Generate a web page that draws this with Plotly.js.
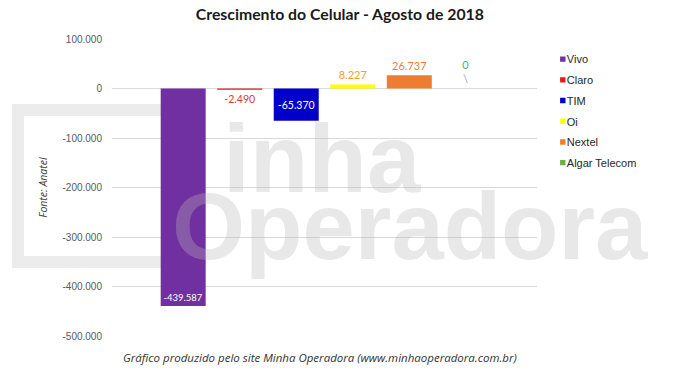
<!DOCTYPE html>
<html>
<head>
<meta charset="utf-8">
<script src="https://cdn.plot.ly/plotly-3.0.1.min.js"></script>
<style>
html,body{margin:0;padding:0;background:#fff;}
#chart{width:673px;height:377px;}
</style>
</head>
<body>
<div id="chart"></div>
<script>
// ---- data ----
const category = "Agosto de 2018";
const operators = ["Vivo", "Claro", "TIM", "Oi", "Nextel", "Algar Telecom"];
const values = [-439587, -2490, -65370, 8227, 26737, 0];
const valueLabels = ["-439.587", "-2.490", "-65.370", "8.227", "26.737", "0<br><span style='color:#a0a0a0'>\\</span>"];
const barColors = ["#7030A0", "#E31A1C", "#0000C8", "#FFFF00", "#ED7D31", "#70AD47"];
const labelColors = ["#FFFFFF", "#D13B3B", "#FFFFFF", "#F0A030", "#ED7D31", "#3DB57A"];
const labelSizes = [9.5, 10.5, 10.5, 11, 11, 11];
const labelPositions = ["inside", "outside", "inside", "outside", "outside", "outside"];
const insideAnchors = ["end", "middle", "middle", "middle", "middle", "middle"];
const yTickVals = [100000, 0, -100000, -200000, -300000, -400000, -500000];
const yTickText = ["100.000", "0", "-100.000", "-200.000", "-300.000", "-400.000", "-500.000"];

const traces = operators.map((name, i) => ({
  type: "bar",
  name: name,
  x: [category],
  y: [values[i]],
  marker: { color: barColors[i] },
  text: [valueLabels[i]],
  textposition: labelPositions[i],
  insidetextanchor: insideAnchors[i],
  textangle: 0,
  textfont: { family: "Lato, sans-serif", size: labelSizes[i], color: labelColors[i] },
  constraintext: "none",
  cliponaxis: false,
  hoverinfo: "skip",
  legendgroup: "g" + i
}));

const wmColor = "rgba(185,185,185,0.32)";
const layout = {
  width: 673, height: 377,
  margin: { l: 112, r: 136, t: 39, b: 41 },
  paper_bgcolor: "#ffffff",
  plot_bgcolor: "rgba(0,0,0,0)",
  barmode: "group",
  bargap: 0.202,
  bargroupgap: 0.204,
  showlegend: true,
  title: {
    text: "Crescimento do Celular - Agosto de 2018",
    font: { family: "Lato, sans-serif", size: 15.8, color: "#1a1a1a", weight: "bold" },
    x: 0.505, xref: "container", xanchor: "center",
    y: 0.962, yref: "container", yanchor: "middle"
  },
  xaxis: { showticklabels: false, showgrid: false, zeroline: false, showline: false, ticks: "", fixedrange: true },
  yaxis: {
    range: [-500000, 100000],
    tickvals: yTickVals, ticktext: yTickText,
    tickfont: { family: "Liberation Sans, Arial, sans-serif", size: 10, color: "#595959" },
    showgrid: true, gridcolor: "#d9d9d9", gridwidth: 1,
    zeroline: true, zerolinecolor: "#d9d9d9", zerolinewidth: 1,
    showline: false, ticks: "", ticklabelstandoff: 9,
    title: { text: "Fonte: Anatel", standoff: 12,
      font: { family: "Open Sans, sans-serif", size: 10.5, color: "#404040", style: "italic" } }
  },
  legend: {
    x: 0.976, xanchor: "left", y: 0.981, yanchor: "top",
    font: { family: "Liberation Sans, Arial, sans-serif", size: 11, color: "#262626" },
    traceorder: "grouped", tracegroupgap: 1.7, itemwidth: 30, bgcolor: "rgba(0,0,0,0)"
  },
  shapes: [
    { type: "rect", layer: "below", xref: "paper", yref: "paper",
      x0: (18 - 112) / 425, x1: (176 - 112) / 425, y0: (336 - 262) / 297, y1: (336 - 110) / 297,
      line: { color: "#ececec", width: 12 }, fillcolor: "rgba(0,0,0,0)" }
  ],
  annotations: [
    { text: "inha", xref: "paper", yref: "paper", x: (221 - 112) / 425, xanchor: "left",
      y: (336 - 158) / 297, yanchor: "middle", showarrow: false,
      font: { family: "Liberation Sans, Arial, sans-serif", size: 96, color: wmColor, weight: "bold" } },
    { text: "Operadora", xref: "paper", yref: "paper", x: (170 - 112) / 425, xanchor: "left",
      y: (336 - 226) / 297, yanchor: "middle", showarrow: false,
      font: { family: "Liberation Sans, Arial, sans-serif", size: 94, color: wmColor, weight: "bold" } },
    { text: "Gráfico produzido pelo site Minha Operadora (www.minhaoperadora.com.br)",
      xref: "paper", yref: "paper", x: 0.49, xanchor: "center", y: (336 - 358) / 297, yanchor: "middle",
      showarrow: false,
      font: { family: "Open Sans, sans-serif", size: 11.5, color: "#333333", style: "italic" } }
  ]
};

function smallLegendKeys() {
  document.querySelectorAll("#chart .legend .traces").forEach(tr => {
    const txt = tr.querySelector("text.legendtext");
    tr.querySelectorAll(".legendpoints path").forEach(p => {
      if (!txt) return;
      p.removeAttribute("transform");
      const bb = p.getBBox();
      const cx = bb.x + bb.width / 2, cy = bb.y + bb.height / 2;
      const pr = p.getBoundingClientRect();
      const tRect = txt.getBoundingClientRect();
      const shift = (tRect.left - 4) - (pr.left + pr.width / 2);
      p.setAttribute("transform",
        "translate(" + (cx + shift) + "," + cy + ") scale(0.45) translate(" + (-cx) + "," + (-cy) + ")");
    });
  });
}

const gd = document.getElementById("chart");
Plotly.newPlot(gd, traces, layout, { displayModeBar: false, staticPlot: true }).then(() => {
  smallLegendKeys();
  gd.on && gd.on("plotly_afterplot", smallLegendKeys);
});
</script>
</body>
</html>
